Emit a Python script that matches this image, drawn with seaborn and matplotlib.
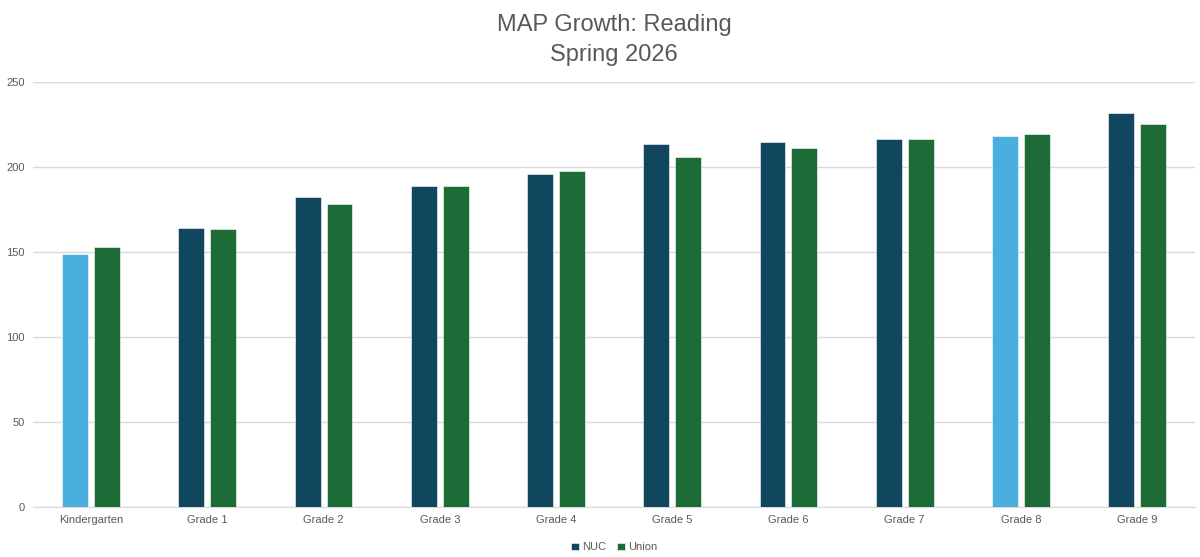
import numpy as np
import pandas as pd
import matplotlib
matplotlib.use("Agg")
import matplotlib.pyplot as plt
import seaborn as sns

# ---------------------------------------------------------------
# Data
# ---------------------------------------------------------------
grades = ["Kindergarten", "Grade 1", "Grade 2", "Grade 3", "Grade 4",
          "Grade 5", "Grade 6", "Grade 7", "Grade 8", "Grade 9"]
nuc = [148.8, 164.1, 182.4, 188.8, 195.9, 213.5, 214.9, 216.3, 218.2, 231.9]
union = [152.9, 163.5, 178.2, 188.8, 197.6, 205.7, 211.4, 216.3, 219.4, 225.3]
highlight = ["Kindergarten", "Grade 8"]   # NUC bars drawn in light blue
yticks = [0, 50, 100, 150, 200, 250]

NUC_COLOR = "#11465f"
UNION_COLOR = "#1d6b37"
LIGHT_COLOR = "#4aaedf"
TEXT_COLOR = "#595959"

df = pd.DataFrame({
    "grade": grades * 2,
    "score": nuc + union,
    "school": ["NUC"] * len(grades) + ["Union"] * len(grades),
})

sns.set_style("white")
plt.rcParams["font.family"] = ["Liberation Sans", "DejaVu Sans"]

fig = plt.figure(figsize=(12, 5.57), dpi=100)
ax = fig.add_axes([0.0275, 0.0898, 0.9685, 0.7632])

sns.barplot(
    data=df, x="grade", y="score", hue="school",
    palette={"NUC": NUC_COLOR, "Union": UNION_COLOR}, saturation=1,
    width=0.55, gap=0.19, errorbar=None, ax=ax, zorder=3,
    edgecolor="#ffffff", linewidth=0.4,
)

for i, g in enumerate(grades):
    if g in highlight:
        ax.containers[0][i].set_facecolor(LIGHT_COLOR)

ax.set_ylim(0, 250)
ax.set_xlim(-0.5, len(grades) - 0.5)
ax.set_yticks(yticks)
ax.yaxis.grid(True, color="#d9d9d9", linewidth=1, zorder=0)
ax.set_axisbelow(True)
ax.set_xlabel("")
ax.set_ylabel("")
for side in ["left", "right", "top"]:
    ax.spines[side].set_visible(False)
ax.spines["bottom"].set_color("#d9d9d9")
ax.tick_params(axis="both", length=0, labelsize=8, colors=TEXT_COLOR, pad=6)

ax.set_title("MAP Growth: Reading\nSpring 2026", fontsize=17,
             color=TEXT_COLOR, pad=15, linespacing=1.45)

leg = ax.legend(
    loc="upper center", bbox_to_anchor=(0.5, -0.06), ncol=2, frameon=False,
    fontsize=8, handlelength=0.7, handleheight=0.7, handletextpad=0.3,
    columnspacing=1.0,
)
for t in leg.get_texts():
    t.set_color(TEXT_COLOR)

fig.savefig("out.png", dpi=100)
plt.close(fig)
